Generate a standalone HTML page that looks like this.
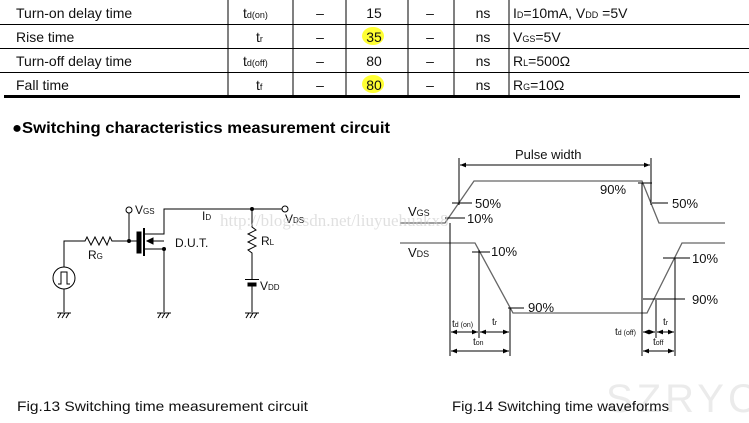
<!DOCTYPE html>
<html><head><meta charset="utf-8"><style>
html,body{margin:0;padding:0;background:#fff;}
svg{display:block;font-family:"Liberation Sans",Arial,sans-serif;}
</style></head><body>
<svg width="749" height="423" viewBox="0 0 749 423" xmlns="http://www.w3.org/2000/svg">
<defs>
<marker id="a" viewBox="0 0 10 10" refX="10" refY="5" markerWidth="6" markerHeight="6" orient="auto-start-reverse"><path d="M0,1 L10,5 L0,9 z" fill="#000"/></marker>
</defs>
<g stroke="#000" stroke-width="1">
<line x1="0" y1="24.5" x2="749" y2="24.5"/>
<line x1="0" y1="48.5" x2="749" y2="48.5"/>
<line x1="0" y1="72.5" x2="749" y2="72.5"/>
<line x1="228" y1="0" x2="228" y2="96"/>
<line x1="293" y1="0" x2="293" y2="96"/>
<line x1="346" y1="0" x2="346" y2="96"/>
<line x1="408" y1="0" x2="408" y2="96"/>
<line x1="454" y1="0" x2="454" y2="96"/>
<line x1="509" y1="0" x2="509" y2="96"/>
</g>
<rect x="4" y="95" width="736" height="3" fill="#000"/>
<ellipse cx="373" cy="36" rx="11" ry="9" fill="#ffff33"/>
<ellipse cx="373" cy="84" rx="11" ry="9" fill="#ffff33"/>
<g font-size="14" fill="#111">
<text x="16" y="18">Turn-on delay time</text>
<text x="16" y="42">Rise time</text>
<text x="16" y="66">Turn-off delay time</text>
<text x="16" y="90">Fall time</text>
<text x="243" y="18">t<tspan font-size="9">d(on)</tspan></text>
<text x="256" y="42">t<tspan font-size="9">r</tspan></text>
<text x="243" y="66">t<tspan font-size="9">d(off)</tspan></text>
<text x="256" y="90">t<tspan font-size="9">f</tspan></text>
<g text-anchor="middle"><text x="320" y="18">–</text><text x="320" y="42">–</text><text x="320" y="66">–</text><text x="320" y="90">–</text>
<text x="374" y="18">15</text><text x="374" y="42">35</text><text x="374" y="66">80</text><text x="374" y="90">80</text>
<text x="430" y="18">–</text><text x="430" y="42">–</text><text x="430" y="66">–</text><text x="430" y="90">–</text>
<text x="483" y="18">ns</text><text x="483" y="42">ns</text><text x="483" y="66">ns</text><text x="483" y="90">ns</text></g>
<text x="513" y="18">I<tspan font-size="9">D</tspan>=10mA,  V<tspan font-size="9">DD</tspan>  =5V</text>
<text x="513" y="42">V<tspan font-size="9">GS</tspan>=5V</text>
<text x="513" y="66">R<tspan font-size="9">L</tspan>=500Ω</text>
<text x="513" y="90">R<tspan font-size="9">G</tspan>=10Ω</text>
</g>
<text x="12" y="133" font-size="16" font-weight="bold" textLength="378" lengthAdjust="spacingAndGlyphs">●Switching characteristics measurement circuit</text>

<g stroke="#000" stroke-width="1" fill="none">
<circle cx="129" cy="210" r="3"/>
<line x1="129" y1="213" x2="129" y2="241"/>
<polyline points="64,267 64,241 85,241 87,237 91,245 95,237 99,245 103,237 107,245 110,237 112,241 139,241"/>
<rect x="137" y="232" width="4" height="21" fill="#000"/>
<line x1="144" y1="228" x2="144" y2="256" stroke-width="2"/>
<polyline points="144,234 164,234 164,209 250,209"/>
<polyline points="144,249 164,249 164,312"/>
<line x1="164" y1="241" x2="150" y2="241"/>
<path d="M147,241 L153,238 L153,244 z" fill="#000"/>
<line x1="252" y1="209" x2="282" y2="209"/>
<circle cx="285" cy="209" r="3"/>
<polyline points="252,209 252,227 256,230 248,234 256,238 248,242 256,246 248,250 252,253 252,279"/>
<line x1="245" y1="279.5" x2="259" y2="279.5"/>
<rect x="248" y="283" width="8" height="3" fill="#000"/>
<line x1="252" y1="286" x2="252" y2="312"/>
<circle cx="64" cy="278" r="11"/>
<polyline points="58,284 61,284 61,272 67,272 67,284 70,284"/>
<line x1="64" y1="289" x2="64" y2="312"/>
</g>
<g fill="#000"><circle cx="129" cy="241" r="2"/><circle cx="164" cy="249" r="2"/><circle cx="252" cy="209" r="2"/></g>
<g stroke="#000" stroke-width="1">
<g id="gnd"><line x1="57" y1="313" x2="71" y2="313"/><line x1="58" y1="318" x2="61" y2="313"/><line x1="62" y1="318" x2="65" y2="313"/><line x1="66" y1="318" x2="69" y2="313"/></g>
<use href="#gnd" x="100"/><use href="#gnd" x="188"/>
</g>
<g font-size="12" fill="#111">
<text x="135" y="214">V<tspan font-size="8">GS</tspan></text>
<text x="202" y="220">I<tspan font-size="8">D</tspan></text>
<text x="285" y="223">V<tspan font-size="8">DS</tspan></text>
<text x="175" y="247">D.U.T.</text>
<text x="88" y="259">R<tspan font-size="8">G</tspan></text>
<text x="261" y="245">R<tspan font-size="8">L</tspan></text>
<text x="260" y="290">V<tspan font-size="8">DD</tspan></text>
</g>

<g stroke="#666" stroke-width="1.3" fill="none">
<polyline points="400,223 445,223 474,181 642,181 659,223 725,223"/>
<polyline points="400,243 475,243 513,313 647,313 682,243 725,243"/>
</g>
<g stroke="#000" stroke-width="1" fill="none">
<line x1="459" y1="158" x2="459" y2="205"/>
<line x1="651" y1="158" x2="651" y2="205"/>
<line x1="460" y1="165" x2="650" y2="165" marker-start="url(#a)" marker-end="url(#a)"/>
<line x1="450" y1="223" x2="450" y2="356"/>
<line x1="479" y1="250" x2="479" y2="338"/>
<line x1="510" y1="308" x2="510" y2="356"/>
<line x1="642" y1="183" x2="642" y2="356"/>
<line x1="656" y1="300" x2="656" y2="338"/>
<line x1="675" y1="258" x2="675" y2="356"/>
<line x1="452" y1="203" x2="472" y2="203"/>
<line x1="445" y1="218" x2="465" y2="218"/>
<line x1="638" y1="183" x2="652" y2="183"/>
<line x1="652" y1="203" x2="668" y2="203"/>
<line x1="472" y1="252" x2="490" y2="252"/>
<line x1="508" y1="308" x2="524" y2="308"/>
<line x1="663" y1="258" x2="690" y2="258"/>
<line x1="643" y1="299" x2="685" y2="299"/>
<line x1="451" y1="332" x2="478" y2="332" marker-start="url(#a)" marker-end="url(#a)"/>
<line x1="480" y1="332" x2="509" y2="332" marker-start="url(#a)" marker-end="url(#a)"/>
<line x1="451" y1="351" x2="509" y2="351" marker-start="url(#a)" marker-end="url(#a)"/>
<line x1="643" y1="332" x2="655" y2="332" marker-start="url(#a)" marker-end="url(#a)"/>
<line x1="657" y1="332" x2="674" y2="332" marker-start="url(#a)" marker-end="url(#a)"/>
<line x1="643" y1="351" x2="674" y2="351" marker-start="url(#a)" marker-end="url(#a)"/>
</g>
<g font-size="13" fill="#111">
<text x="515" y="159">Pulse width</text>
<text x="475" y="208">50%</text>
<text x="467" y="223">10%</text>
<text x="408" y="216">V<tspan font-size="9">GS</tspan></text>
<text x="600" y="194">90%</text>
<text x="672" y="208">50%</text>
<text x="408" y="257">V<tspan font-size="9">DS</tspan></text>
<text x="491" y="256">10%</text>
<text x="528" y="312">90%</text>
<text x="692" y="263">10%</text>
<text x="692" y="304">90%</text>
</g>
<g font-size="10" fill="#111">
<text x="452" y="327">t<tspan font-size="7">d (on)</tspan></text>
<text x="492" y="325">t<tspan font-size="7">r</tspan></text>
<text x="473" y="345">t<tspan font-size="7">on</tspan></text>
<text x="615" y="335">t<tspan font-size="7">d (off)</tspan></text>
<text x="663" y="325">t<tspan font-size="7">r</tspan></text>
<text x="653" y="345">t<tspan font-size="7">off</tspan></text>
</g>
<text x="220" y="226" font-family="'Liberation Serif',serif" font-size="17" fill="#ccc" fill-opacity="0.6">http://blog.csdn.net/liuyuehuakx8</text>
<text x="606" y="412" font-family="'Liberation Sans',sans-serif" font-size="40" fill="#e6e6e6" fill-opacity="0.8" letter-spacing="4">SZRYC</text>
<g font-size="14" fill="#111">
<text x="17" y="411" textLength="291" lengthAdjust="spacingAndGlyphs">Fig.13  Switching time measurement circuit</text>
<text x="452" y="411" textLength="217" lengthAdjust="spacingAndGlyphs">Fig.14  Switching time waveforms</text>
</g>
</svg>
</body></html>
